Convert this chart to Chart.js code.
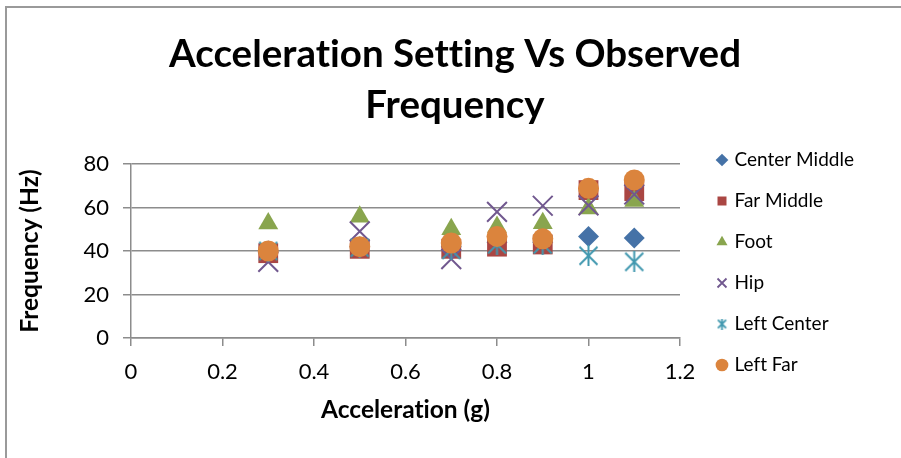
<!DOCTYPE html>
<html>
<head>
<meta charset="utf-8">
<title>Acceleration Setting Vs Observed Frequency</title>
<script src="https://cdn.jsdelivr.net/npm/chart.js@4"></script>
<style>
  html, body { margin: 0; padding: 0; overflow: hidden; background: #fff; }
  body { width: 901px; height: 458px; position: relative; }
  .frame { position: absolute; left: 5px; top: 6px; width: 1000px; height: 1000px; border: 2px solid #9a9a9a; }
  .wrap { position: absolute; left: 0; top: 0; }
</style>
</head>
<body>
<div class="frame"></div>
<div class="wrap"><canvas id="chart" width="910" height="525"></canvas></div>
<script>
// acceleration settings (g)
const accel = [0.3, 0.5, 0.7, 0.8, 0.9, 1.0, 1.1];

// observed frequency (Hz) per sensor position
const centerMiddle = [40, 42, 42, 44, 44, 46.7, 46];
const farMiddle = [39, 41, 41, 42, 43, 68, 67.5];
const foot = [52.7, 55.7, 50, 51, 52.8, 59.5, 63];
const hip = [35, 49, 36.3, 58, 60.8, 61, 66];
const leftCenter = [40, 41.5, 40.5, 43, 43, 37.8, 35];
const leftFar = [40, 42, 43.7, 46.7, 45.6, 68.8, 72.7];

const seriesNames = ["Center Middle", "Far Middle", "Foot", "Hip", "Left Center", "Left Far"];
const seriesValues = [centerMiddle, farMiddle, foot, hip, leftCenter, leftFar];
const seriesColors = ["#4572A7", "#AA4643", "#89A54E", "#71588F", "#4198AF", "#DB843D"];

const xTicks = { min: 0, max: 1.2, step: 0.2 };
const yTicks = { min: 0, max: 80, step: 20 };

const GRID = "#8c8c8c";

// excel-style asterisk: an X with a vertical bar through it
function asteriskMark(size, color, lw) {
    const c = document.createElement("canvas");
    c.width = c.height = size;
    const g = c.getContext("2d");
    const m = lw / 2 + 0.5;
    g.strokeStyle = color;
    g.lineWidth = lw;
    g.beginPath();
    g.moveTo(m, m); g.lineTo(size - m, size - m);
    g.moveTo(size - m, m); g.lineTo(m, size - m);
    g.moveTo(size / 2, 0); g.lineTo(size / 2, size);
    g.stroke();
    return c;
}

const markers = [
    { pointStyle: "rectRot", pointRadius: 10.5, borderWidth: 0 },
    { pointStyle: "rect", pointRadius: 14, borderWidth: 0 },
    { pointStyle: "triangle", pointRadius: 11.5, borderWidth: 0 },
    { pointStyle: "crossRot", pointRadius: 14, borderWidth: 2 },
    { pointStyle: asteriskMark(21, seriesColors[4], 2), pointRadius: 10, borderWidth: 2 },
    { pointStyle: "circle", pointRadius: 10.5, borderWidth: 0 },
];
const smallAsterisk = asteriskMark(11, seriesColors[4], 1.8);

const datasets = seriesNames.map((name, i) => ({
    label: name,
    data: accel.map((x, j) => ({ x: x, y: seriesValues[i][j] })),
    backgroundColor: seriesColors[i],
    borderColor: seriesColors[i],
    pointStyle: markers[i].pointStyle,
    pointRadius: markers[i].pointRadius,
    pointHoverRadius: markers[i].pointRadius,
    pointBorderWidth: markers[i].borderWidth,
    borderWidth: markers[i].borderWidth,
    showLine: false,
    order: seriesNames.length - i, // later series sit on top
}));

// widen the legend box so the plot ends at 1.2 and the title stays centred
const legendBox = {
    id: "legendBox",
    beforeLayout(chart) {
        const lg = chart.legend;
        if (!lg || lg._patched) return;
        const fit = lg.fit;
        lg.fit = function () {
            fit.call(this);
            this.width = 213;
        };
        lg._patched = true;
    },
    beforeDraw(chart) {
        // no "ti" ligatures
        chart.ctx.textRendering = "optimizeSpeed";
    },
};

const fmtTick = (v) => String(Math.round(v * 10) / 10);

Chart.defaults.font.family = "Lato, 'Open Sans', sans-serif";
Chart.defaults.color = "#000";

new Chart(document.getElementById("chart"), {
    type: "scatter",
    data: { datasets },
    options: {
        responsive: false,
        animation: false,
        layout: { padding: 0 },
        plugins: {
            title: {
                display: true,
                text: ["Acceleration Setting Vs Observed", "Frequency"],
                font: { size: 38.5, weight: "bold", lineHeight: "51px" },
                color: "#000",
                padding: { top: 29.5, bottom: 32.5 },
            },
            legend: {
                position: "right",
                align: "center",
                labels: {
                    usePointStyle: true,
                    boxWidth: 6,
                    boxHeight: 9,
                    padding: 22,
                    color: "#000",
                    font: { size: 19 },
                    sort: (a, b) => a.datasetIndex - b.datasetIndex,
                    generateLabels(chart) {
                        const items = Chart.defaults.plugins.legend.labels.generateLabels(chart);
                        items.forEach((it) => {
                            if (it.datasetIndex === 4) it.pointStyle = smallAsterisk;
                            if (it.datasetIndex === 3) it.lineWidth = 1.8;
                        });
                        return items;
                    },
                },
            },
            tooltip: { enabled: false },
        },
        scales: {
            x: {
                type: "linear",
                min: xTicks.min,
                max: xTicks.max,
                ticks: { stepSize: xTicks.step, padding: 13, font: { size: 22 }, color: "#000", callback: fmtTick },
                grid: { drawOnChartArea: false, drawTicks: true, tickLength: 8, color: GRID, lineWidth: 1.5 },
                border: { display: true, color: GRID, width: 1.5 },
                title: {
                    display: true,
                    text: "Acceleration (g)",
                    font: { size: 24.5, weight: "bold" },
                    color: "#000",
                    padding: { top: 0, bottom: 100 },
                },
                afterFit(scale) { scale.height = 187; },
            },
            y: {
                type: "linear",
                min: yTicks.min,
                max: yTicks.max,
                ticks: { stepSize: yTicks.step, padding: 14, font: { size: 22 }, color: "#000", callback: fmtTick },
                grid: { drawTicks: true, tickLength: 8, color: GRID, lineWidth: 1.5 },
                border: { display: true, color: GRID, width: 1.5 },
                title: {
                    display: true,
                    text: "Frequency (Hz)",
                    font: { size: 24.5, weight: "bold" },
                    color: "#000",
                    padding: { top: 15, bottom: 0 },
                },
                afterFit(scale) { scale.width = 131; },
            },
            gap: {
                type: "linear",
                position: "right",
                display: true,
                grid: { display: false },
                border: { display: false },
                ticks: { display: false },
                afterFit(scale) { scale.width = 17; },
            },
        },
    },
    plugins: [legendBox],
});
</script>
</body>
</html>
